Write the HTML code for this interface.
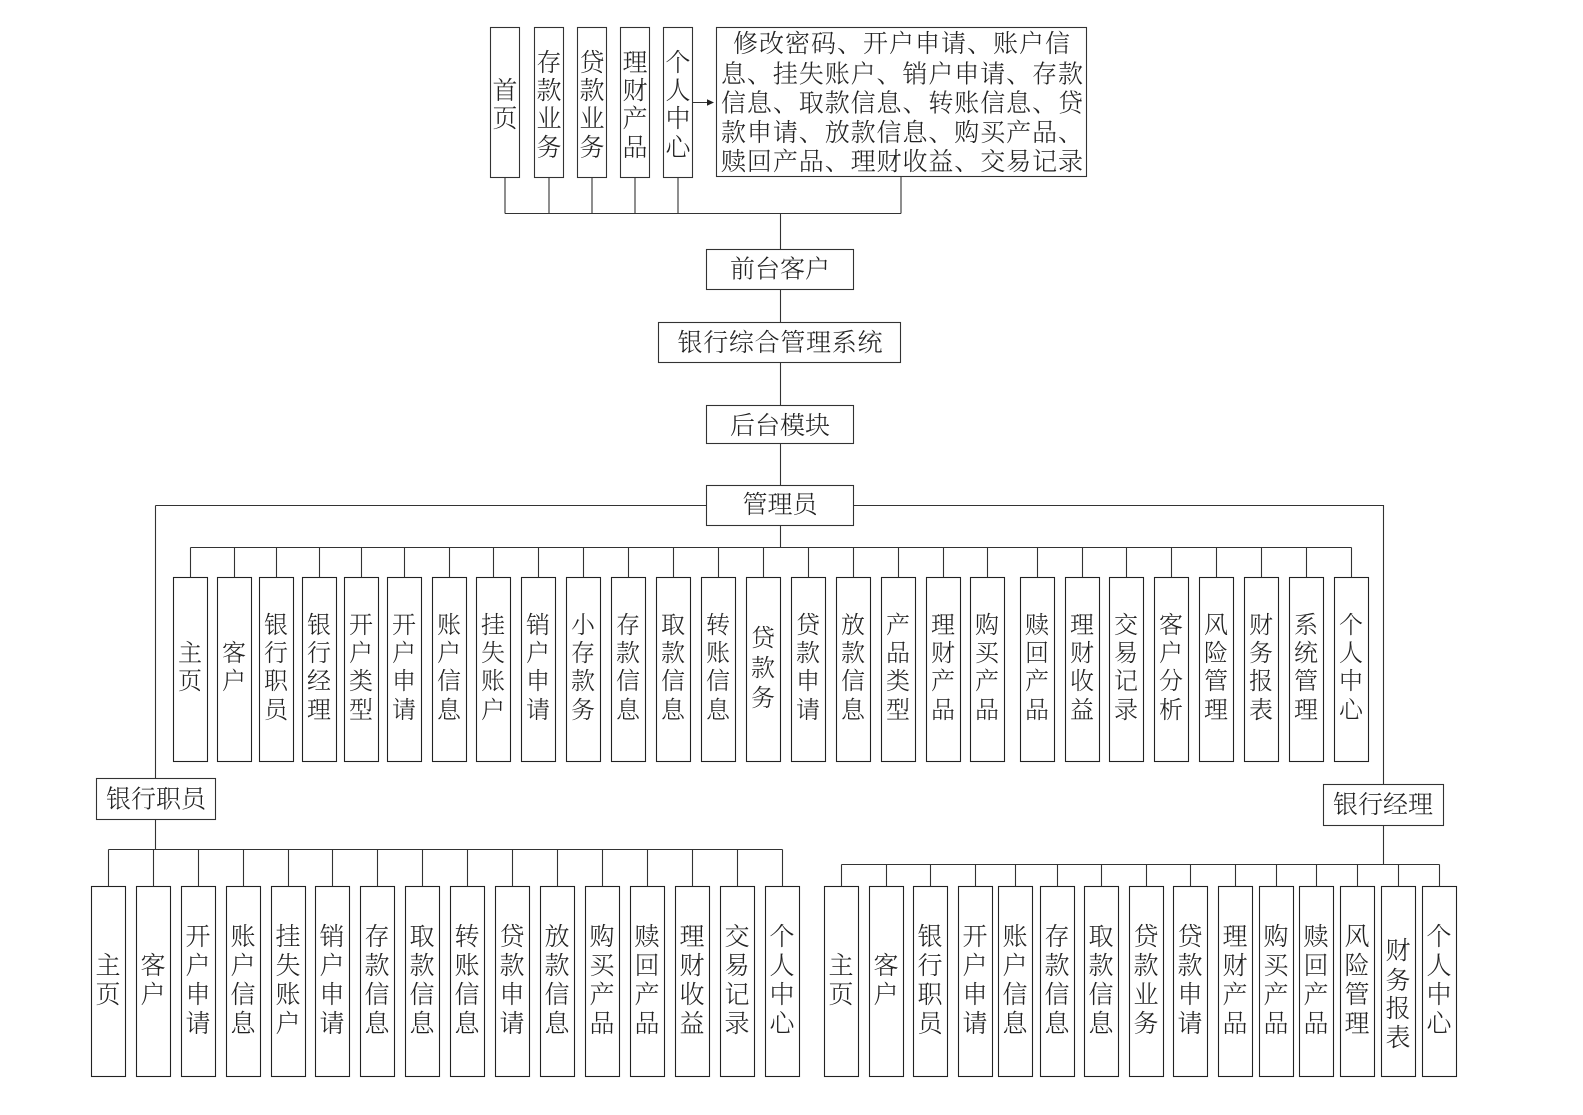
<!DOCTYPE html>
<html>
<head>
<meta charset="utf-8">
<style>
html,body{margin:0;padding:0;background:#fff;}
svg{display:block;}
text{font-family:"Liberation Serif","Noto Serif CJK SC","Noto Sans CJK SC",serif;fill:#222;font-weight:300;}
.v text,.v{text-anchor:middle;}
</style>
</head>
<body>
<svg width="1583" height="1115" viewBox="0 0 1583 1115" xmlns="http://www.w3.org/2000/svg">
<rect width="1583" height="1115" fill="#fff"/>
<g fill="none" stroke="#333" stroke-width="1.1">
  <!-- top boxes -->
  <rect x="490.5" y="27.5" width="29" height="150"/>
  <rect x="534.5" y="27.5" width="29" height="150"/>
  <rect x="577.5" y="27.5" width="29" height="150"/>
  <rect x="620.5" y="27.5" width="29" height="150"/>
  <rect x="663.5" y="27.5" width="29" height="150"/>
  <rect x="716.5" y="27.5" width="370" height="149"/>
  <!-- top connectors -->
  <path d="M505,177.5V213.5M549,177.5V213.5M592,177.5V213.5M635,177.5V213.5M678,177.5V213.5M901,177V213.5M505,213.5H901M780.5,213.5V249.5"/>
  <path d="M692.5,102.5H709"/>
  <!-- middle boxes -->
  <rect x="706.5" y="249.5" width="147" height="40"/>
  <rect x="658.5" y="322.5" width="242" height="40"/>
  <rect x="706.5" y="405.5" width="147" height="38"/>
  <rect x="706.5" y="485.5" width="147" height="40"/>
  <path d="M780.5,289.5V322.5M780.5,362.5V405.5M780.5,443.5V485.5"/>
  <!-- admin trunk -->
  <path d="M155.5,505.5H706.5M853.5,505.5H1383.5V784.5M155.5,505.5V778.5"/>
  <path d="M780.5,525.5V547.5M190.5,547.5H1351.5"/>
  <!-- clerk / manager boxes -->
  <rect x="96.5" y="778.5" width="119" height="41"/>
  <rect x="1323.5" y="784.5" width="120" height="41"/>
  <path d="M155.5,819.5V849.5M108.5,849.5H782.5"/>
  <path d="M1383.5,825.5V864.5M841.5,864.5H1439.5"/>
</g>
<polygon points="714,102.5 707,99.3 707,105.7" fill="#222"/>

<!-- admin boxes -->
<g fill="none" stroke="#222" stroke-width="1.1">
  <rect x="173.5" y="577.5" width="34" height="184"/>
  <rect x="217.5" y="577.5" width="34" height="184"/>
  <rect x="259.5" y="577.5" width="34" height="184"/>
  <rect x="302.5" y="577.5" width="34" height="184"/>
  <rect x="344.5" y="577.5" width="34" height="184"/>
  <rect x="387.5" y="577.5" width="34" height="184"/>
  <rect x="432.5" y="577.5" width="34" height="184"/>
  <rect x="476.5" y="577.5" width="34" height="184"/>
  <rect x="521.5" y="577.5" width="34" height="184"/>
  <rect x="566.5" y="577.5" width="34" height="184"/>
  <rect x="611.5" y="577.5" width="34" height="184"/>
  <rect x="656.5" y="577.5" width="34" height="184"/>
  <rect x="701.5" y="577.5" width="34" height="184"/>
  <rect x="746.5" y="577.5" width="34" height="184"/>
  <rect x="791.5" y="577.5" width="34" height="184"/>
  <rect x="836.5" y="577.5" width="34" height="184"/>
  <rect x="881.5" y="577.5" width="34" height="184"/>
  <rect x="926.5" y="577.5" width="34" height="184"/>
  <rect x="970.5" y="577.5" width="34" height="184"/>
  <rect x="1020.5" y="577.5" width="34" height="184"/>
  <rect x="1065.5" y="577.5" width="34" height="184"/>
  <rect x="1109.5" y="577.5" width="34" height="184"/>
  <rect x="1154.5" y="577.5" width="34" height="184"/>
  <rect x="1199.5" y="577.5" width="34" height="184"/>
  <rect x="1244.5" y="577.5" width="34" height="184"/>
  <rect x="1289.5" y="577.5" width="34" height="184"/>
  <rect x="1334.5" y="577.5" width="34" height="184"/>
</g>
<g stroke="#333" stroke-width="1.1">
  <path d="M190.5,547.5V577.5M234.5,547.5V577.5M276.5,547.5V577.5M319.5,547.5V577.5M361.5,547.5V577.5M404.5,547.5V577.5M449.5,547.5V577.5M493.5,547.5V577.5M538.5,547.5V577.5M583.5,547.5V577.5M628.5,547.5V577.5M673.5,547.5V577.5M718.5,547.5V577.5M763.5,547.5V577.5M808.5,547.5V577.5M853.5,547.5V577.5M898.5,547.5V577.5M943.5,547.5V577.5M987.5,547.5V577.5M1037.5,547.5V577.5M1082.5,547.5V577.5M1126.5,547.5V577.5M1171.5,547.5V577.5M1216.5,547.5V577.5M1261.5,547.5V577.5M1306.5,547.5V577.5M1351.5,547.5V577.5"/>
</g>

<!-- clerk row boxes -->
<g fill="none" stroke="#222" stroke-width="1.1">
  <rect x="91.5" y="886.5" width="34" height="190"/>
  <rect x="136.5" y="886.5" width="34" height="190"/>
  <rect x="181.5" y="886.5" width="34" height="190"/>
  <rect x="226.5" y="886.5" width="34" height="190"/>
  <rect x="271.5" y="886.5" width="34" height="190"/>
  <rect x="315.5" y="886.5" width="34" height="190"/>
  <rect x="360.5" y="886.5" width="34" height="190"/>
  <rect x="405.5" y="886.5" width="34" height="190"/>
  <rect x="450.5" y="886.5" width="34" height="190"/>
  <rect x="495.5" y="886.5" width="34" height="190"/>
  <rect x="540.5" y="886.5" width="34" height="190"/>
  <rect x="585.5" y="886.5" width="34" height="190"/>
  <rect x="630.5" y="886.5" width="34" height="190"/>
  <rect x="675.5" y="886.5" width="34" height="190"/>
  <rect x="720.5" y="886.5" width="34" height="190"/>
  <rect x="765.5" y="886.5" width="34" height="190"/>
</g>
<g stroke="#333" stroke-width="1.1">
  <path d="M108.5,849.5V886.5M153.5,849.5V886.5M198.5,849.5V886.5M243.5,849.5V886.5M288.5,849.5V886.5M332.5,849.5V886.5M377.5,849.5V886.5M422.5,849.5V886.5M467.5,849.5V886.5M512.5,849.5V886.5M557.5,849.5V886.5M602.5,849.5V886.5M647.5,849.5V886.5M692.5,849.5V886.5M737.5,849.5V886.5M782.5,849.5V886.5"/>
</g>

<!-- manager row boxes -->
<g fill="none" stroke="#222" stroke-width="1.1">
  <rect x="824.5" y="886.5" width="34" height="190"/>
  <rect x="869.5" y="886.5" width="34" height="190"/>
  <rect x="913.5" y="886.5" width="34" height="190"/>
  <rect x="958.5" y="886.5" width="34" height="190"/>
  <rect x="998.5" y="886.5" width="34" height="190"/>
  <rect x="1040.5" y="886.5" width="34" height="190"/>
  <rect x="1084.5" y="886.5" width="34" height="190"/>
  <rect x="1129.5" y="886.5" width="34" height="190"/>
  <rect x="1173.5" y="886.5" width="34" height="190"/>
  <rect x="1218.5" y="886.5" width="34" height="190"/>
  <rect x="1259.5" y="886.5" width="34" height="190"/>
  <rect x="1299.5" y="886.5" width="34" height="190"/>
  <rect x="1340.5" y="886.5" width="34" height="190"/>
  <rect x="1381.5" y="886.5" width="34" height="190"/>
  <rect x="1422.5" y="886.5" width="34" height="190"/>
</g>
<g stroke="#333" stroke-width="1.1">
  <path d="M841.5,864.5V886.5M886.5,864.5V886.5M930.5,864.5V886.5M975.5,864.5V886.5M1015.5,864.5V886.5M1057.5,864.5V886.5M1101.5,864.5V886.5M1146.5,864.5V886.5M1190.5,864.5V886.5M1235.5,864.5V886.5M1276.5,864.5V886.5M1316.5,864.5V886.5M1357.5,864.5V886.5M1398.5,864.5V886.5M1439.5,864.5V886.5"/>
</g>

<!-- top texts -->
<g class="v" font-size="25">
  <text x="505 505" y="99 127">首页</text>
  <text x="549 549 549 549" y="71 99 127 156">存款业务</text>
  <text x="592 592 592 592" y="71 99 127 156">贷款业务</text>
  <text x="635 635 635 635" y="71 99 127 156">理财产品</text>
  <text x="678 678 678 678" y="71 99 127 156">个人中心</text>
</g>
<g font-size="25">
  <text x="733" y="52" textLength="337" lengthAdjust="spacing">修改密码、开户申请、账户信</text>
  <text x="721" y="82.5" textLength="362" lengthAdjust="spacing">息、挂失账户、销户申请、存款</text>
  <text x="721" y="111.5" textLength="362" lengthAdjust="spacing">信息、取款信息、转账信息、贷</text>
  <text x="721" y="141" textLength="362" lengthAdjust="spacing">款申请、放款信息、购买产品、</text>
  <text x="721" y="170" textLength="362" lengthAdjust="spacing">赎回产品、理财收益、交易记录</text>
</g>

<!-- middle texts -->
<g class="v" font-size="25">
  <text x="780" y="277.5">前台客户</text>
  <text x="780" y="351" textLength="205" lengthAdjust="spacing">银行综合管理系统</text>
  <text x="780" y="434">后台模块</text>
  <text x="780" y="513">管理员</text>
  <text x="156" y="807.5">银行职员</text>
  <text x="1383" y="813">银行经理</text>
</g>

<!-- admin texts -->
<g class="v" font-size="24">
  <text x="190 190" y="661 689">主页</text>
  <text x="234 234" y="661 689">客户</text>
  <text x="276 276 276 276" y="633 661 689 718">银行职员</text>
  <text x="319 319 319 319" y="633 661 689 718">银行经理</text>
  <text x="361 361 361 361" y="633 661 689 718">开户类型</text>
  <text x="404 404 404 404" y="633 661 689 718">开户申请</text>
  <text x="449 449 449 449" y="633 661 689 718">账户信息</text>
  <text x="493 493 493 493" y="633 661 689 718">挂失账户</text>
  <text x="538 538 538 538" y="633 661 689 718">销户申请</text>
  <text x="583 583 583 583" y="633 661 689 718">小存款务</text>
  <text x="628 628 628 628" y="633 661 689 718">存款信息</text>
  <text x="673 673 673 673" y="633 661 689 718">取款信息</text>
  <text x="718 718 718 718" y="633 661 689 718">转账信息</text>
  <text x="763 763 763" y="646 676 706">贷款务</text>
  <text x="808 808 808 808" y="633 661 689 718">贷款申请</text>
  <text x="853 853 853 853" y="633 661 689 718">放款信息</text>
  <text x="898 898 898 898" y="633 661 689 718">产品类型</text>
  <text x="943 943 943 943" y="633 661 689 718">理财产品</text>
  <text x="987 987 987 987" y="633 661 689 718">购买产品</text>
  <text x="1037 1037 1037 1037" y="633 661 689 718">赎回产品</text>
  <text x="1082 1082 1082 1082" y="633 661 689 718">理财收益</text>
  <text x="1126 1126 1126 1126" y="633 661 689 718">交易记录</text>
  <text x="1171 1171 1171 1171" y="633 661 689 718">客户分析</text>
  <text x="1216 1216 1216 1216" y="633 661 689 718">风险管理</text>
  <text x="1261 1261 1261 1261" y="633 661 689 718">财务报表</text>
  <text x="1306 1306 1306 1306" y="633 661 689 718">系统管理</text>
  <text x="1351 1351 1351 1351" y="633 661 689 718">个人中心</text>
</g>

<!-- clerk row texts -->
<g class="v" font-size="25">
  <text x="108 108" y="974 1003">主页</text>
  <text x="153 153" y="974 1003">客户</text>
  <text x="198 198 198 198" y="945 974 1003 1032">开户申请</text>
  <text x="243 243 243 243" y="945 974 1003 1032">账户信息</text>
  <text x="288 288 288 288" y="945 974 1003 1032">挂失账户</text>
  <text x="332 332 332 332" y="945 974 1003 1032">销户申请</text>
  <text x="377 377 377 377" y="945 974 1003 1032">存款信息</text>
  <text x="422 422 422 422" y="945 974 1003 1032">取款信息</text>
  <text x="467 467 467 467" y="945 974 1003 1032">转账信息</text>
  <text x="512 512 512 512" y="945 974 1003 1032">贷款申请</text>
  <text x="557 557 557 557" y="945 974 1003 1032">放款信息</text>
  <text x="602 602 602 602" y="945 974 1003 1032">购买产品</text>
  <text x="647 647 647 647" y="945 974 1003 1032">赎回产品</text>
  <text x="692 692 692 692" y="945 974 1003 1032">理财收益</text>
  <text x="737 737 737 737" y="945 974 1003 1032">交易记录</text>
  <text x="782 782 782 782" y="945 974 1003 1032">个人中心</text>
</g>

<!-- manager row texts -->
<g class="v" font-size="25">
  <text x="841 841" y="974 1003">主页</text>
  <text x="886 886" y="974 1003">客户</text>
  <text x="930 930 930 930" y="945 974 1003 1032">银行职员</text>
  <text x="975 975 975 975" y="945 974 1003 1032">开户申请</text>
  <text x="1015 1015 1015 1015" y="945 974 1003 1032">账户信息</text>
  <text x="1057 1057 1057 1057" y="945 974 1003 1032">存款信息</text>
  <text x="1101 1101 1101 1101" y="945 974 1003 1032">取款信息</text>
  <text x="1146 1146 1146 1146" y="945 974 1003 1032">贷款业务</text>
  <text x="1190 1190 1190 1190" y="945 974 1003 1032">贷款申请</text>
  <text x="1235 1235 1235 1235" y="945 974 1003 1032">理财产品</text>
  <text x="1276 1276 1276 1276" y="945 974 1003 1032">购买产品</text>
  <text x="1316 1316 1316 1316" y="945 974 1003 1032">赎回产品</text>
  <text x="1357 1357 1357 1357" y="945 974 1003 1032">风险管理</text>
  <text x="1398 1398 1398 1398" y="959 989 1017 1046">财务报表</text>
  <text x="1439 1439 1439 1439" y="945 974 1003 1032">个人中心</text>
</g>
</svg>
</body>
</html>
